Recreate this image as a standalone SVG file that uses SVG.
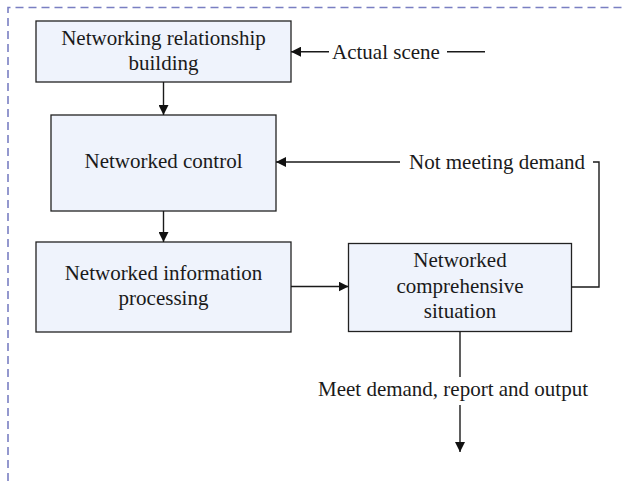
<svg xmlns="http://www.w3.org/2000/svg" width="623" height="481" viewBox="0 0 623 481">
<defs>
<style>
.box{fill:#eff3fc;stroke:#222;stroke-width:1.3}
.t{font-family:"Liberation Serif","Times New Roman",serif;font-size:21px;fill:#1a1a1a}
.m{text-anchor:middle}
.ln{fill:none;stroke:#1a1a1a;stroke-width:1.4}
.frame{fill:none;stroke:#7a7fc2;stroke-width:1.6;stroke-dasharray:8 5}
</style>
<marker id="ah" viewBox="0 0 10 10" refX="10" refY="5" markerWidth="10" markerHeight="10" markerUnits="userSpaceOnUse" orient="auto">
<path d="M0,0 L10,5 L0,10 Z" fill="#111"/>
</marker>
</defs>
<path class="frame" d="M8,481 V7.5 H623"/>
<g id="n1">
<rect class="box" x="36" y="21" width="255" height="61"/>
<text class="t m" x="163.5" y="45">Networking relationship</text>
<text class="t m" x="163.5" y="70">building</text>
</g>
<g id="n2">
<rect class="box" x="51" y="115" width="225" height="96"/>
<text class="t m" x="163.5" y="168">Networked control</text>
</g>
<g id="n3">
<rect class="box" x="36" y="242" width="255" height="90"/>
<text class="t m" x="163.5" y="280">Networked information</text>
<text class="t m" x="163.5" y="305">processing</text>
</g>
<g id="n4">
<rect class="box" x="348.5" y="243.5" width="223" height="88"/>
<text class="t m" x="460" y="267">Networked</text>
<text class="t m" x="460" y="293">comprehensive</text>
<text class="t m" x="460" y="318">situation</text>
</g>
<g id="connectors">
<path class="ln" d="M163.5,82 V115" marker-end="url(#ah)"/>
<path class="ln" d="M163.5,211 V242" marker-end="url(#ah)"/>
<path class="ln" d="M291,286.5 H348.5" marker-end="url(#ah)"/>
<path class="ln" d="M329,51.7 H291" marker-end="url(#ah)"/>
<path class="ln" d="M447,51.7 H485"/>
<path class="ln" d="M571.5,287 H599 V162 H593"/>
<path class="ln" d="M400,162 H276" marker-end="url(#ah)"/>
<path class="ln" d="M460,331.5 V377"/>
<path class="ln" d="M460,405 V452" marker-end="url(#ah)"/>
<text class="t" x="332" y="58.5">Actual scene</text>
<text class="t" x="409" y="169">Not meeting demand</text>
<text class="t m" x="453" y="396">Meet demand, report and output</text>
</g>
</svg>
